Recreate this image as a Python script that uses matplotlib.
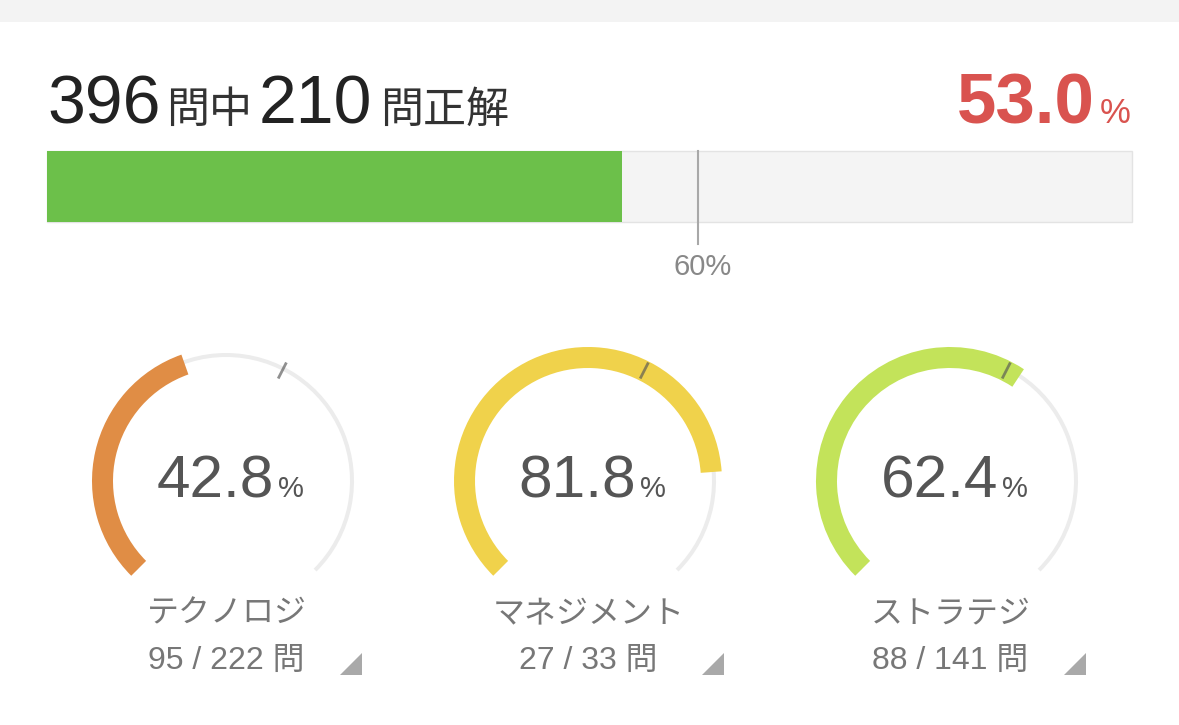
import matplotlib
matplotlib.use('Agg')
import matplotlib.pyplot as plt
from matplotlib.patches import Wedge, Rectangle, Polygon
import numpy as np

# ---- data ----
total_questions = 396
correct_questions = 210
overall_pct = 53.0
pass_line = 60

categories = ['テクノロジ', 'マネジメント', 'ストラテジ']
cat_correct = [95, 27, 88]
cat_total = [222, 33, 141]
cat_pct = [42.8, 81.8, 62.4]
cat_colors = ['#E08D45', '#F0D24B', '#C3E35A']

NUM = ['Liberation Sans', 'Noto Sans CJK JP']
CJK = ['Noto Sans CJK JP', 'Liberation Sans']

W, H = 1179, 725
fig = plt.figure(figsize=(W / 100, H / 100), dpi=100)
ax = fig.add_axes([0, 0, 1, 1])
ax.set_xlim(0, W)
ax.set_ylim(H, 0)
ax.axis('off')
fig.canvas.draw()
renderer = fig.canvas.get_renderer()


def width(t):
    return t.get_window_extent(renderer).width


# top strip
ax.add_patch(Rectangle((0, 0), W, 22, facecolor='#F3F3F3', edgecolor='none'))

# ---- header ----
x = 47
base = 123
pieces = [(str(total_questions), 49, NUM, '#222222', 6),
          ('問中', 31, CJK, '#333333', 6),
          (str(correct_questions), 49, NUM, '#222222', 8),
          ('問正解', 31, CJK, '#333333', 0)]
for s, fs, fam, col, gap in pieces:
    t = ax.text(x, base, s, fontsize=fs, family=fam, color=col,
                ha='left', va='baseline')
    x += width(t) + gap

red = '#D9534F'
tp = ax.text(1131, base, '%', fontsize=25, family=NUM, color=red,
             ha='right', va='baseline')
ax.text(1131 - width(tp) - 5, base, f'{overall_pct:.1f}', fontsize=51,
        family=NUM, color=red, fontweight='bold', ha='right', va='baseline')

# ---- progress bar ----
bx, by, bw, bh = 47, 151, 1085, 71
ax.add_patch(Rectangle((bx, by), bw, bh, facecolor='#F4F4F4',
                       edgecolor='#E3E3E3', lw=1))
ax.add_patch(Rectangle((bx, by), bw * overall_pct / 100, bh,
                       facecolor='#6CC04A', edgecolor='none'))
mx = bx + bw * pass_line / 100
ax.plot([mx, mx], [by, 244], color='#A8A8A8', lw=1.5)
ax.text(mx + 5, 267, f'{pass_line}%', fontsize=21, family=NUM, color='#888888',
        ha='center', va='center')

# ---- gauges ----
centers_x = [226, 588, 950]
cy = 481
r_out = 134
band = 21
start = 225.0
span = 270.0

for cx, name, c, tot, pct, col in zip(centers_x, categories, cat_correct,
                                      cat_total, cat_pct, cat_colors):
    # background track (visual angles -> data angles are negated, y inverted)
    ax.add_patch(Wedge((cx, cy), 128, -start, -(start - span), width=4,
                       facecolor='#ECECEC', edgecolor='none'))
    end = start - span * pct / 100
    ax.add_patch(Wedge((cx, cy), r_out, -start, -end, width=band,
                       facecolor=col, edgecolor='none'))
    # pass line tick
    a = np.deg2rad(start - span * pass_line / 100)
    r1, r2 = 115, 133
    ax.plot([cx + r1 * np.cos(a), cx + r2 * np.cos(a)],
            [cy - r1 * np.sin(a), cy - r2 * np.sin(a)],
            color='#555555', alpha=0.65, lw=2, solid_capstyle='butt')
    # center value
    tn = ax.text(0, 497, f'{pct:.1f}', fontsize=43.5, family=NUM,
                 color='#555555', ha='left', va='baseline')
    tpc = ax.text(0, 497, '%', fontsize=21, family=NUM, color='#555555',
                  ha='left', va='baseline')
    wn, wp = width(tn), width(tpc)
    gap = 4
    total_w = wn + gap + wp
    x0 = cx + 4 - total_w / 2
    tn.set_x(x0)
    tpc.set_x(x0 + wn + gap)
    # labels
    ax.text(cx + 1, 613, name, fontsize=23, family=CJK, color='#777777',
            ha='center', va='center')
    ax.text(cx, 661, f'{c} / {tot} 問', fontsize=23, family=NUM,
            color='#777777', ha='center', va='center')
    # corner triangle
    ax.add_patch(Polygon([[cx + 114, 675], [cx + 136, 675], [cx + 136, 653]],
                         closed=True, facecolor='#A9A9A9', edgecolor='none'))

fig.savefig('out.png', dpi=100, facecolor='white')
